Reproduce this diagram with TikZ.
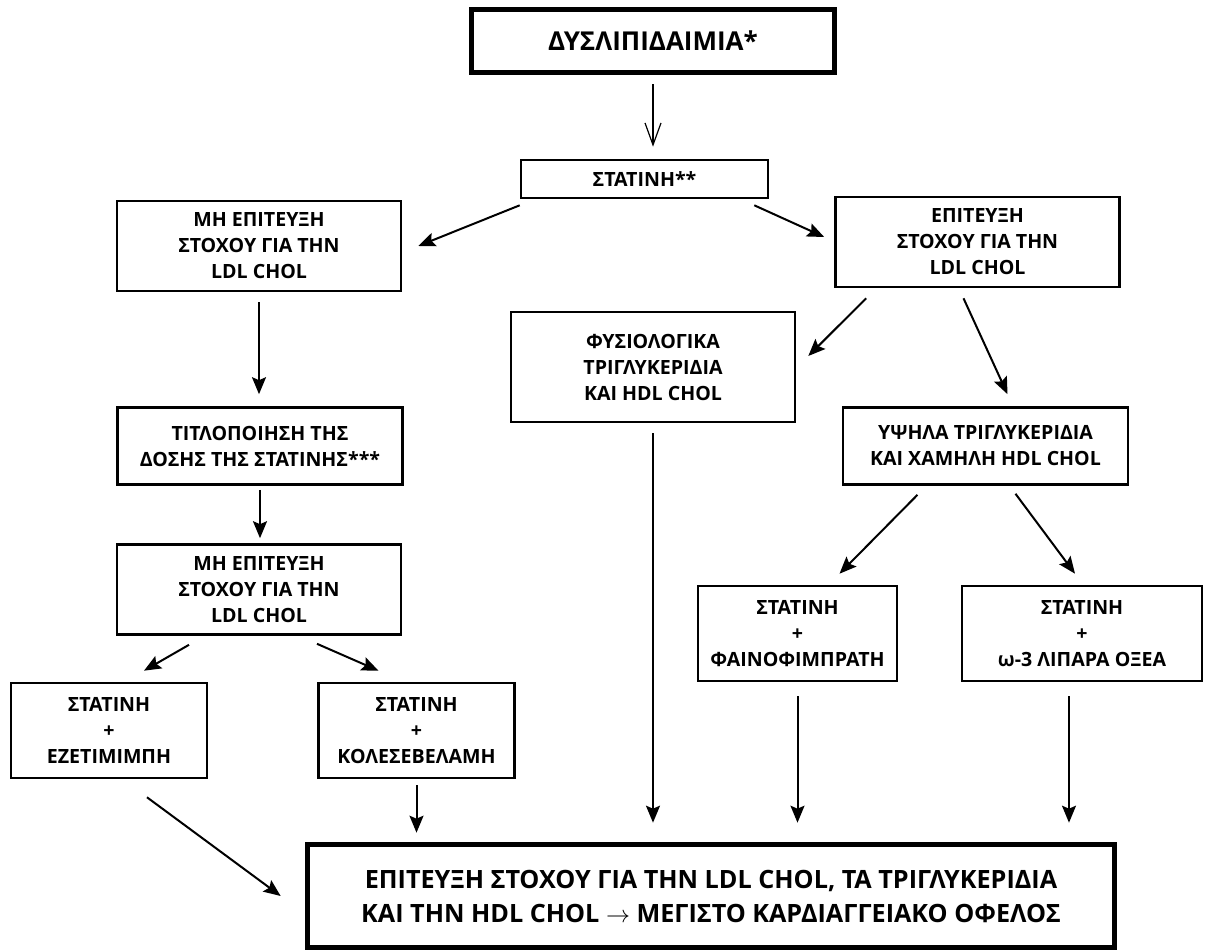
\documentclass[tikz,border=0pt]{standalone}
\usepackage{fontspec}
\setmainfont{Open Sans}
\usetikzlibrary{arrows.meta}

\begin{document}
\begin{tikzpicture}[x=0.5pt, y=-0.5pt]
    \tikzset{
        box/.style={draw, line width=1.3pt, align=center, inner sep=0pt, font=\fontsize{9.8}{13}\selectfont\bfseries},
        bigbox/.style={draw, line width=2.8pt, align=center, inner sep=0pt, font=\fontsize{12.6}{17}\selectfont\bfseries},
        arr/.style={line width=1pt, -{Stealth[length=8.5pt, width=7pt, inset=1.5pt]}},
        openarr/.style={line width=0.6pt, -{Straight Barb[length=11pt, width=8pt]}}
    }
    \useasboundingbox (0,0) rectangle (1211,952);

    \node[bigbox, minimum width=181.5pt, minimum height=31.5pt, font=\fontsize{13}{17}\selectfont\bfseries] (dys) at (653, 41) {ΔΥΣΛΙΠΙΔΑΙΜΙΑ*};
    \node[box, minimum width=123.5pt, minimum height=19pt] (stat) at (644.5, 179) {ΣΤΑΤΙΝΗ**};

    \node[box, minimum width=142pt, minimum height=45pt] (fail1) at (259, 246) {ΜΗ ΕΠΙΤΕΥΞΗ\\ΣΤΟΧΟΥ ΓΙΑ ΤΗΝ\\LDL CHOL};
    \node[box, minimum width=142pt, minimum height=45pt] (succ) at (977.5, 242) {ΕΠΙΤΕΥΞΗ\\ΣΤΟΧΟΥ ΓΙΑ ΤΗΝ\\LDL CHOL};
    \node[box, minimum width=142pt, minimum height=55pt] (norm) at (653, 367) {ΦΥΣΙΟΛΟΓΙΚΑ\\ΤΡΙΓΛΥΚΕΡΙΔΙΑ\\ΚΑΙ HDL CHOL};
    \node[box, minimum width=142.5pt, minimum height=38.5pt] (titr) at (260, 446) {ΤΙΤΛΟΠΟΙΗΣΗ ΤΗΣ\\ΔΟΣΗΣ ΤΗΣ ΣΤΑΤΙΝΗΣ***};
    \node[box, minimum width=142.5pt, minimum height=38.5pt] (high) at (985.5, 446) {ΥΨΗΛΑ ΤΡΙΓΛΥΚΕΡΙΔΙΑ\\ΚΑΙ ΧΑΜΗΛΗ HDL CHOL};
    \node[box, minimum width=142pt, minimum height=45pt] (fail2) at (259, 589.5) {ΜΗ ΕΠΙΤΕΥΞΗ\\ΣΤΟΧΟΥ ΓΙΑ ΤΗΝ\\LDL CHOL};

    \node[box, minimum width=98pt, minimum height=47.5pt] (eze) at (109, 730.5) {ΣΤΑΤΙΝΗ\\+\\ΕΖΕΤΙΜΙΜΠΗ};
    \node[box, minimum width=98pt, minimum height=47.5pt] (cole) at (416.5, 730.5) {ΣΤΑΤΙΝΗ\\+\\ΚΟΛΕΣΕΒΕΛΑΜΗ};
    \node[box, minimum width=99.5pt, minimum height=47.5pt] (feno) at (797.5, 633.5) {ΣΤΑΤΙΝΗ\\+\\ΦΑΙΝΟΦΙΜΠΡΑΤΗ};
    \node[box, minimum width=120pt, minimum height=47.5pt] (omega) at (1082, 633.5) {ΣΤΑΤΙΝΗ\\+\\ω-3 ΛΙΠΑΡΑ ΟΞΕΑ};

    \node[bigbox, minimum width=403.5pt, minimum height=51.5pt] (goal) at (711, 896) {ΕΠΙΤΕΥΞΗ ΣΤΟΧΟΥ ΓΙΑ ΤΗΝ LDL CHOL, ΤΑ ΤΡΙΓΛΥΚΕΡΙΔΙΑ\\ΚΑΙ ΤΗΝ HDL CHOL $\rightarrow$ ΜΕΓΙΣΤΟ ΚΑΡΔΙΑΓΓΕΙΑΚΟ ΟΦΕΛΟΣ};

    \draw[openarr, shorten <=4.5pt, shorten >=6pt] (dys.south) -- (dys.south |- stat.north);

    \draw[arr] ([yshift=-3pt]stat.south west) -- ([xshift=8pt]fail1.east);
    \draw[arr] ([xshift=-7.5pt, yshift=-3pt]stat.south east) -- ([xshift=-5pt, yshift=2.5pt]succ.west);

    \draw[arr] ([xshift=16pt, yshift=-5pt]succ.south west) -- ([xshift=6pt, yshift=5.5pt]norm.east);
    \draw[arr] ([xshift=-7pt, yshift=-5pt]succ.south) -- ([xshift=11pt, yshift=6pt]high.north);

    \draw[arr, shorten <=5pt, shorten >=6pt] (fail1.south) -- (fail1.south |- titr.north);
    \draw[arr, shorten <=2pt, shorten >=2.5pt] (titr.south) -- (titr.south |- fail2.north);

    \draw[arr] ([xshift=-35pt, yshift=-4.5pt]fail2.south) -- ([xshift=17.5pt, yshift=5.5pt]eze.north);
    \draw[arr] ([xshift=29pt, yshift=-4pt]fail2.south) -- ([xshift=-19pt, yshift=5.5pt]cole.north);

    \draw[arr] ([xshift=-34pt, yshift=-4.5pt]high.south) -- ([xshift=21pt, yshift=5.5pt]feno.north);
    \draw[arr] ([xshift=15pt, yshift=-4pt]high.south) -- ([xshift=-3.5pt, yshift=5.5pt]omega.north);

    \foreach \n/\s in {norm/5pt, feno/7pt} {
        \draw[arr, shorten <=\s, shorten >=9.5pt] (\n.south) -- (\n.south |- goal.north);
    }
    \coordinate (om) at ([xshift=-6.5pt]omega.south);
    \draw[arr, shorten <=7pt, shorten >=9.5pt] (om) -- (om |- goal.north);

    \draw[arr, shorten <=3pt, shorten >=4.5pt] (cole.south) -- (cole.south |- goal.north);
    \draw[arr] ([xshift=19pt, yshift=-9pt]eze.south) -- ([xshift=-12pt]goal.west);

\end{tikzpicture}
\end{document}
